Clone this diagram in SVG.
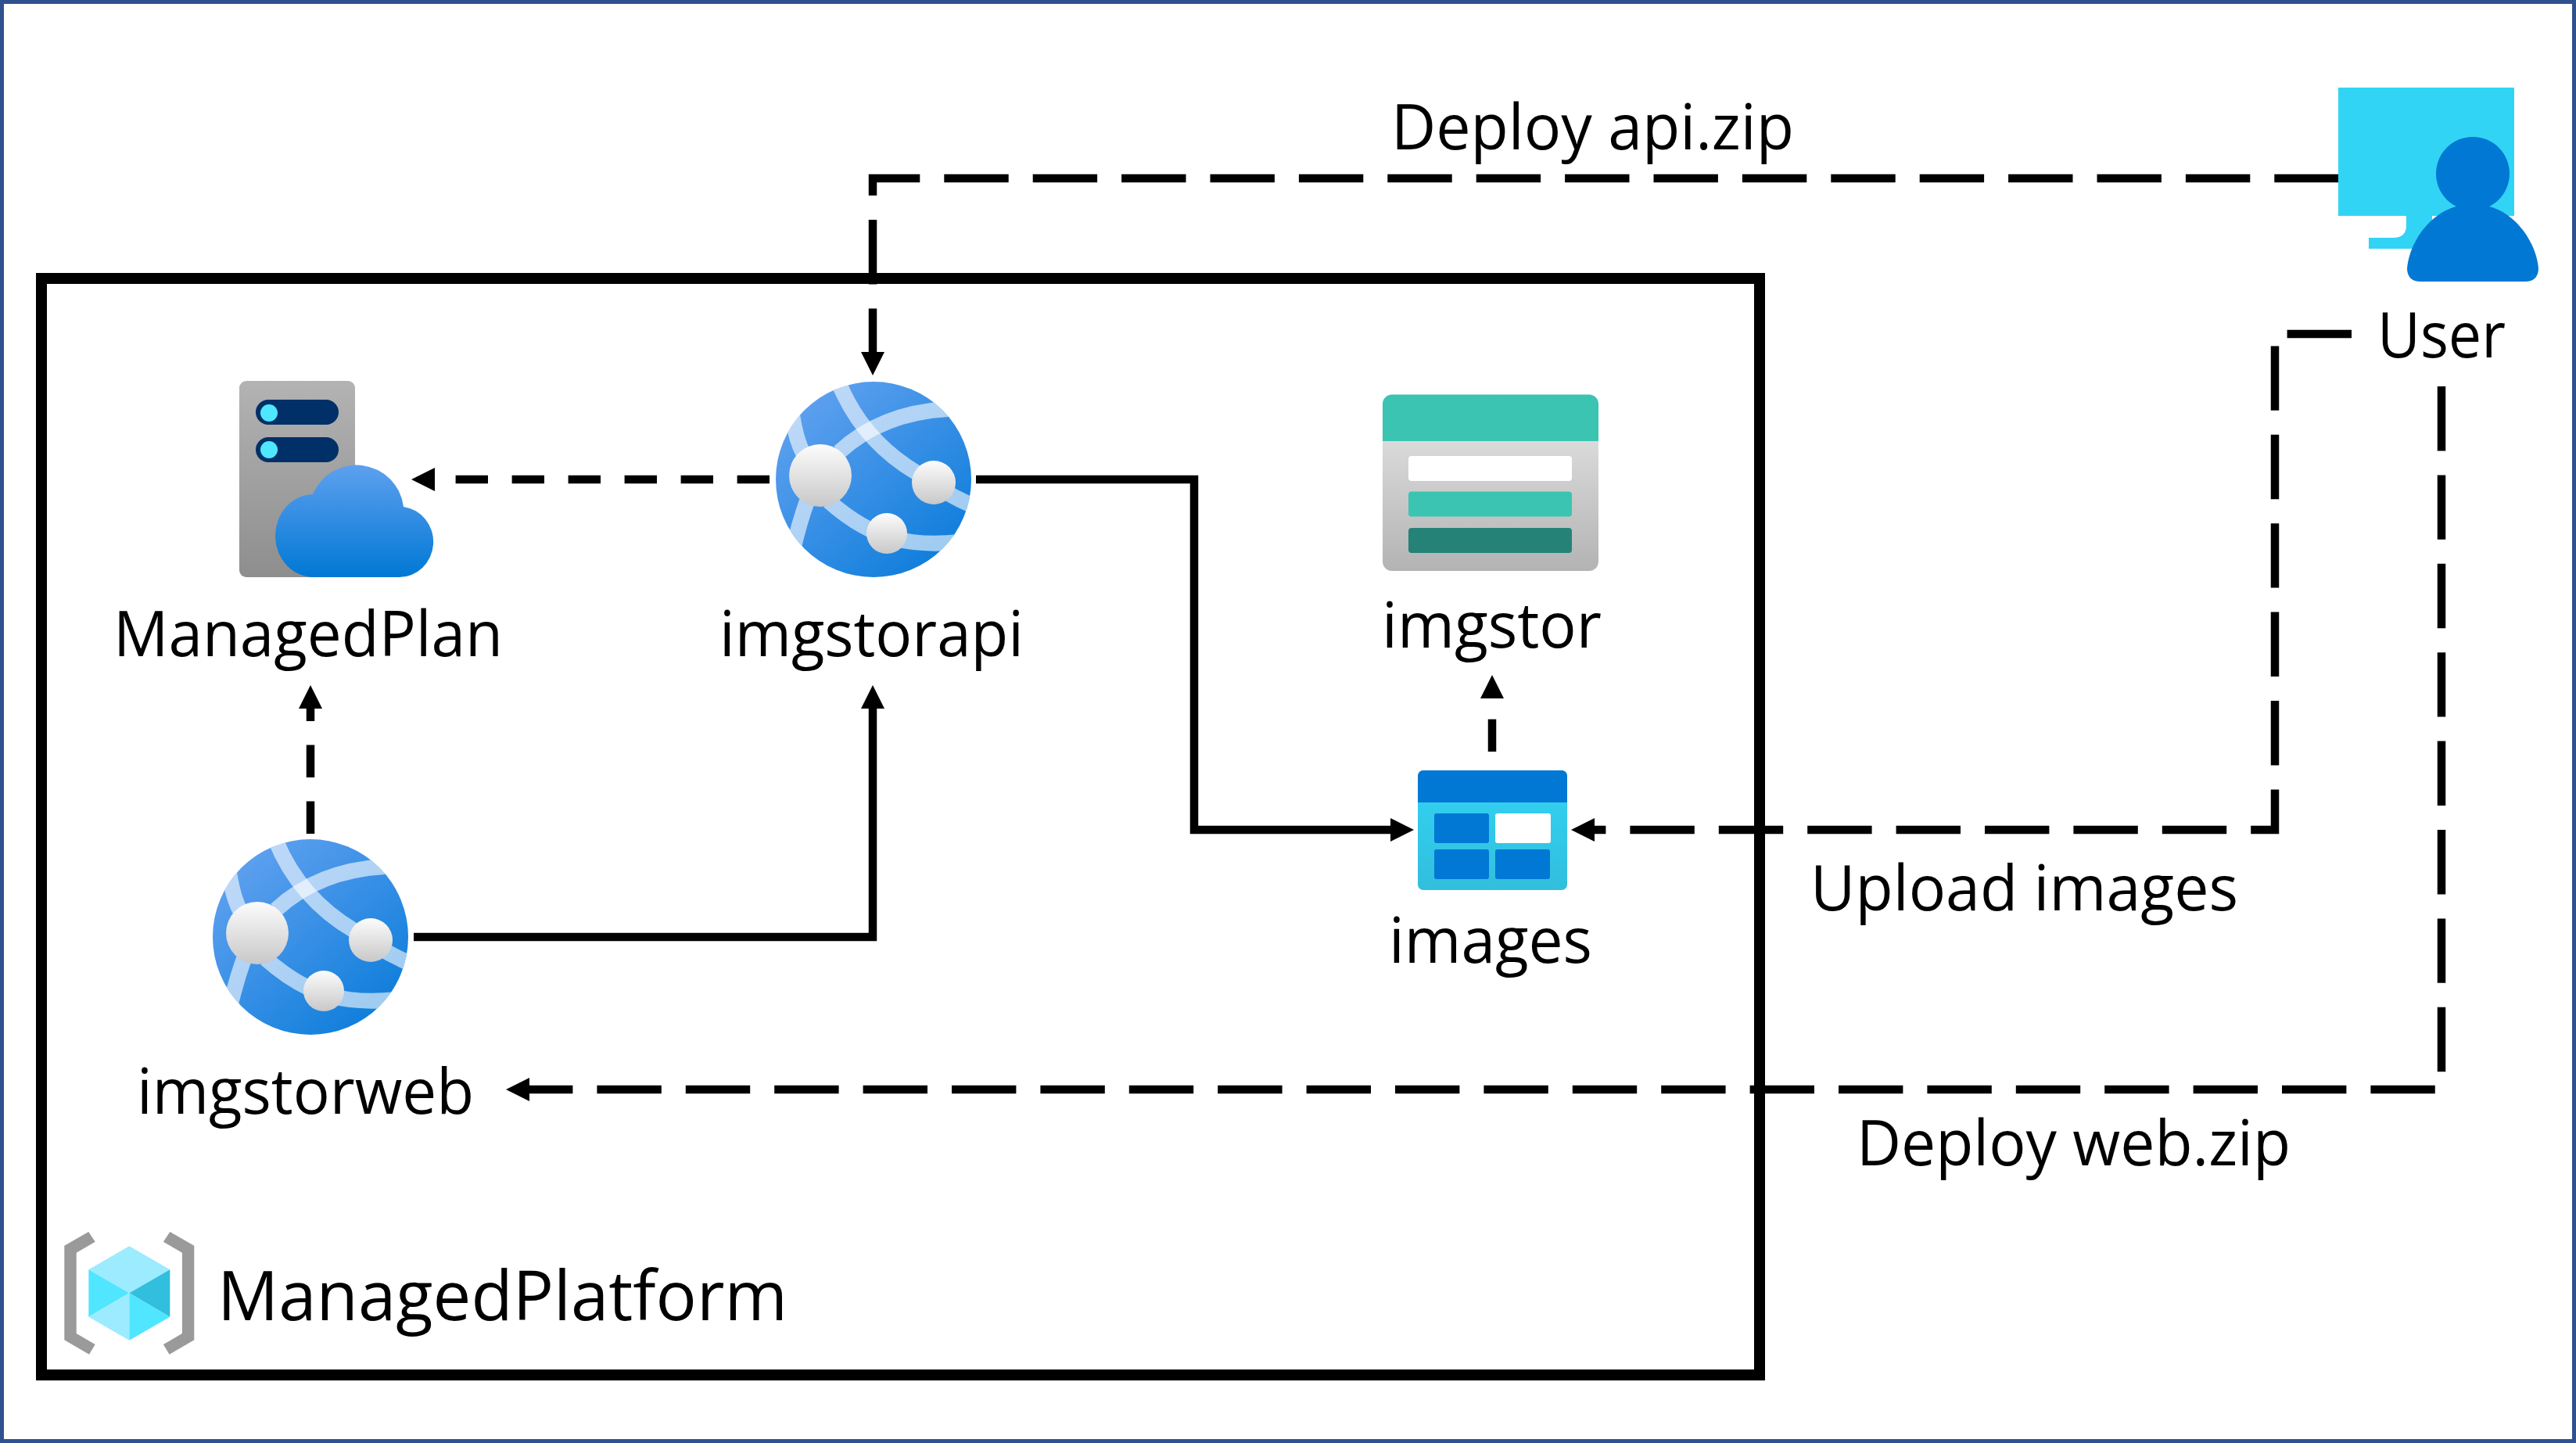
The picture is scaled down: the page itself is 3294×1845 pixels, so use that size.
<svg xmlns="http://www.w3.org/2000/svg" width="3294" height="1845" viewBox="0 0 3294 1845">
<style>
text{font-family:"Open Sans","Noto Sans","Liberation Sans",sans-serif;font-size:80px;fill:#000}
.c{fill:none;stroke:#000;stroke-width:10.5}
.s{marker-end:url(#ah)}
.d{stroke-dasharray:41.4 30.6;marker-end:url(#ah)}
.l{stroke-dasharray:82.4 31;marker-end:url(#ah)}
.band{fill:none;stroke:#fff;stroke-width:20;stroke-opacity:.6}
</style>
<defs>
<marker id="ah" markerUnits="userSpaceOnUse" markerWidth="32" markerHeight="30" refX="2" refY="15" orient="auto"><path d="M0,0L30,15L0,30z" fill="#000"/></marker>
<linearGradient id="gWeb" x1="0.15" y1="0.1" x2="0.85" y2="0.9"><stop offset="0" stop-color="#5ea0ef"/><stop offset="1" stop-color="#0f7edb"/></linearGradient>
<linearGradient id="gNode" x1="0" y1="0" x2="0" y2="1"><stop offset="0" stop-color="#fcfcfc"/><stop offset="1" stop-color="#c8c8c8"/></linearGradient>
<linearGradient id="gSrv" x1="0" y1="0" x2="0" y2="1"><stop offset="0" stop-color="#b3b3b3"/><stop offset="1" stop-color="#8e8e8e"/></linearGradient>
<linearGradient id="gCloud" x1="0" y1="0" x2="0" y2="1"><stop offset="0" stop-color="#5ea0ef"/><stop offset="1" stop-color="#0078d4"/></linearGradient>
<linearGradient id="gStor" x1="0" y1="0" x2="0" y2="1"><stop offset="0" stop-color="#e8e8e8"/><stop offset="1" stop-color="#b3b3b3"/></linearGradient>
<linearGradient id="gTbl" x1="0" y1="0" x2="0" y2="1"><stop offset="0" stop-color="#32d4f5"/><stop offset="1" stop-color="#32bedd"/></linearGradient>
<clipPath id="cWeb"><circle r="125"/></clipPath>
<g id="webIcon">
<circle r="125" fill="url(#gWeb)"/>
<g clip-path="url(#cWeb)">
<path class="band" d="M-44,-35Q10,-85 95,-90"/>
<path class="band" d="M-45,-125Q-15,-50 56,-8Q90,18 130,35" stroke-opacity=".55"/>
<path class="band" d="M-105,-90Q-100,-50 -88,-30"/>
<path class="band" d="M-84,25Q-95,55 -103,90"/>
<path class="band" d="M-57,28Q-15,65 25,75Q60,85 110,80"/>
</g>
<circle cx="-68" cy="-5" r="40" fill="url(#gNode)"/>
<circle cx="77" cy="4" r="28" fill="url(#gNode)"/>
<circle cx="17" cy="69" r="26" fill="url(#gNode)"/>
</g>
</defs>
<rect width="3294" height="1845" fill="#fff"/>
<rect x="2.5" y="2.5" width="3289" height="1840" fill="none" stroke="#2f528f" stroke-width="5"/>
<rect id="platform-box" x="53" y="356" width="2197" height="1402" fill="none" stroke="#000" stroke-width="14"/>

<g id="connectors">
<path class="c l" d="M2990.7,228H1116V452"/>
<path class="c l" d="M3007,427H2909V1061H2037"/>
<path class="c l" d="M3122,494V1393H675"/>
<path class="c d" d="M984,613H554"/>
<path class="c d" d="M397,1066V904"/>
<path class="c d" d="M1908,961V891"/>
<path class="c s" d="M529,1198H1116V904"/>
<path class="c s" d="M1248,613H1527V1061H1780"/>
</g>

<g id="ManagedPlan">
<rect x="306" y="487" width="148" height="251" rx="9" fill="url(#gSrv)"/>
<rect x="327" y="511" width="106" height="32" rx="16" fill="#003067"/>
<rect x="327" y="559" width="106" height="32" rx="16" fill="#003067"/>
<circle cx="344" cy="528" r="11" fill="#50e6ff"/>
<circle cx="344" cy="575" r="11" fill="#50e6ff"/>
<path d="M402,738A49,53 0 0 1 400,632A60.500,60.500 0 0 1 516,648A44,45.200 0 0 1 510,738Z" fill="url(#gCloud)"/>
<text x="145" y="839" textLength="498" lengthAdjust="spacingAndGlyphs">ManagedPlan</text>
</g>

<g id="imgstorapi">
<use href="#webIcon" transform="translate(1117,613)"/>
<text x="920" y="839" textLength="389" lengthAdjust="spacingAndGlyphs">imgstorapi</text>
</g>

<g id="imgstorweb">
<use href="#webIcon" transform="translate(397,1198)"/>
<text x="175" y="1424" textLength="431" lengthAdjust="spacingAndGlyphs">imgstorweb</text>
</g>

<g id="imgstor">
<rect x="1768" y="504.5" width="276" height="225.5" rx="12" fill="url(#gStor)"/>
<path d="M1768,564V516.500a12,12 0 0 1 12,-12H2032a12,12 0 0 1 12,12V564Z" fill="#3bc4b2"/>
<rect x="1801" y="583" width="209" height="32" rx="4" fill="#fff"/>
<rect x="1801" y="628.500" width="209" height="32" rx="4" fill="#3bc4b2"/>
<rect x="1801" y="675" width="209" height="32" rx="4" fill="#258277"/>
<text x="1767" y="828" textLength="281" lengthAdjust="spacingAndGlyphs">imgstor</text>
</g>

<g id="images">
<rect x="1813" y="985" width="191" height="153" rx="7" fill="url(#gTbl)"/>
<path d="M1813,1026V992a7,7 0 0 1 7,-7H1997a7,7 0 0 1 7,7V1026Z" fill="#0078d4"/>
<rect x="1834" y="1040" width="70" height="38" rx="3" fill="#0078d4"/>
<rect x="1912" y="1040" width="71" height="38" rx="3" fill="#fff"/>
<rect x="1834" y="1086" width="70" height="38" rx="3" fill="#0078d4"/>
<rect x="1912" y="1086" width="70" height="38" rx="3" fill="#0078d4"/>
<text x="1776" y="1231" textLength="260" lengthAdjust="spacingAndGlyphs">images</text>
</g>

<g id="User">
<path d="M2990,112H3215V276H3110V318H3029V304H3060Q3077,304 3077,288V276H2990Z" fill="#32d4f5"/>
<circle cx="3162" cy="222" r="47" fill="#0078d4"/>
<path d="M3162,261C3110,261 3080,311 3078,344Q3079,360 3095,360H3229Q3245,360 3246,344C3244,311 3214,261 3162,261Z" fill="#0078d4"/>
<text x="3040" y="457" textLength="164" lengthAdjust="spacingAndGlyphs">User</text>
</g>

<g id="ManagedPlatform">
<path id="br" d="M113.300,1575L121.700,1587.700L97.700,1601.700V1705L121.700,1719L114,1731.700L82.300,1713.300V1592.700Z" fill="#9a9a9a"/>
<use href="#br" transform="translate(330.600,0) scale(-1,1)"/>
<path d="M165.300,1593.300L217.300,1623.300L165.300,1653.300L113.300,1623.300Z" fill="#9cebff"/>
<path d="M113.300,1623.300L165.300,1653.300L113.300,1683.700Z" fill="#50e6ff"/>
<path d="M217.300,1623.300V1683.700L165.300,1653.300Z" fill="#32bedd"/>
<path d="M113.300,1683.700L165.300,1653.300V1713.700Z" fill="#9cebff"/>
<path d="M165.300,1653.300L217.300,1683.700L165.300,1713.700Z" fill="#50e6ff"/>
<text x="278" y="1688" style="font-size:88px" textLength="729" lengthAdjust="spacingAndGlyphs">ManagedPlatform</text>
</g>

<g id="labels">
<text x="1779" y="191" textLength="515" lengthAdjust="spacingAndGlyphs">Deploy api.zip</text>
<text x="2315" y="1164" textLength="547" lengthAdjust="spacingAndGlyphs">Upload images</text>
<text x="2374" y="1490" textLength="555" lengthAdjust="spacingAndGlyphs">Deploy web.zip</text>
</g>
</svg>
